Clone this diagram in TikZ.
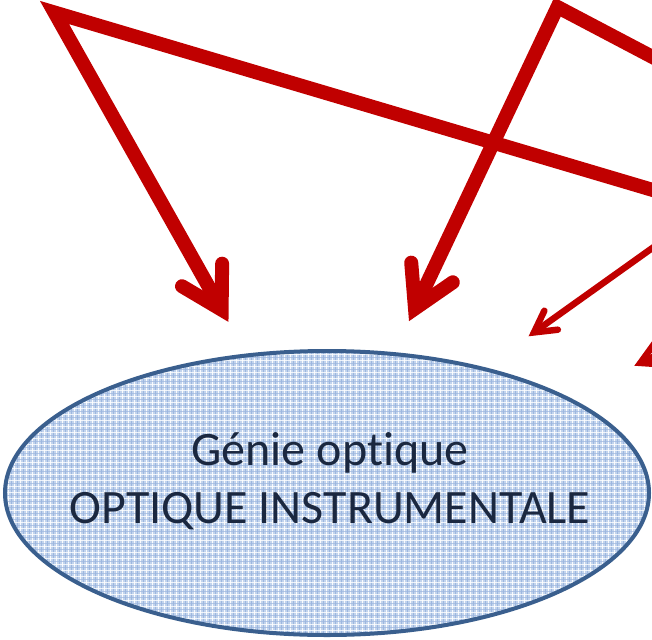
\documentclass[tikz,border=0pt]{standalone}
\usepackage{fontspec}
\setmainfont{Carlito}[Ligatures=NoCommon]
\usetikzlibrary{calc,shapes.geometric}
\definecolor{arrowred}{HTML}{C00000}
\definecolor{ellborder}{HTML}{3A5F8E}
\definecolor{ellfill}{HTML}{C2D4ED}
\definecolor{gridblue}{HTML}{9DB7DF}
\definecolor{txt}{HTML}{1B2840}
\begin{document}
\begin{tikzpicture}[x=1pt,y=-1pt,
  thickline/.style={draw=arrowred, line width=14pt, line join=miter},
  thinline/.style={draw=arrowred, line width=6.5pt, line join=miter},
  thickhead/.style={draw=arrowred, line width=14pt, line join=miter, line cap=round},
  thinhead/.style={draw=arrowred, line width=6.5pt, line join=miter, line cap=round},
  bubble/.style={ellipse, draw=ellborder, line width=4pt, fill=ellfill,
    minimum width=644pt, minimum height=284pt, inner sep=0pt,
    path picture={
      \foreach \i in {0,6,...,660} {
        \draw[gridblue, line width=0.7pt] ($(path picture bounding box.north west)+(\i,0)$) -- ++(0,300);
        \draw[white, line width=1pt, opacity=0.9] ($(path picture bounding box.north west)+(\i+3,0)$) -- ++(0,300);
      }
      \foreach \j in {0,6,...,300} {
        \draw[gridblue, line width=0.7pt, opacity=0.7] ($(path picture bounding box.north west)+(0,\j)$) -- ++(660,0);
        \draw[white, line width=1pt, opacity=0.8] ($(path picture bounding box.north west)+(0,\j+3)$) -- ++(660,0);
      }
    }},
  label/.style={font=\fontsize{48}{58}\selectfont, text=txt, align=center, anchor=base, inner sep=0pt}]
\useasboundingbox (0,0) rectangle (652,639);
\clip (0,0) rectangle (652,639);

% ellipse
\node[bubble] (e) at (327,493) {};
\node[label] (t) at (330,523) {Génie optique\\OPTIQUE INSTRUMENTALE};

% left connector
\coordinate (x1) at (700,204);
\coordinate (c1) at (54.5,12.5);
\coordinate (v1) at (221.6,309.7);
\draw[thickline] (x1) -- (c1) -- (v1);
\draw[thickhead] ($(v1)!46pt!30:(c1)$) -- (v1) -- ($(v1)!46pt!-30:(c1)$);

% right connector
\coordinate (x2) at (700,82);
\coordinate (c2) at (557.5,7);
\coordinate (v2) at (415,308.5);
\draw[thickline] (x2) -- (c2) -- (v2);
\draw[thickhead] ($(v2)!46pt!30:(c2)$) -- (v2) -- ($(v2)!46pt!-30:(c2)$);

% thin arrow
\coordinate (x3) at (700,214);
\coordinate (v3) at (534,332.4);
\draw[thinline] (x3) -- (v3);
\draw[thinhead] ($(v3)!24pt!29:(x3)$) -- (v3) -- ($(v3)!24pt!-29:(x3)$);

% small arrow at the edge
\coordinate (x4) at (700,335);
\coordinate (v4) at (640.4,362.9);
\draw[thinline] (x4) -- (v4);
\draw[thinhead] ($(v4)!24pt!29:(x4)$) -- (v4) -- ($(v4)!24pt!-29:(x4)$);
\end{tikzpicture}
\end{document}
